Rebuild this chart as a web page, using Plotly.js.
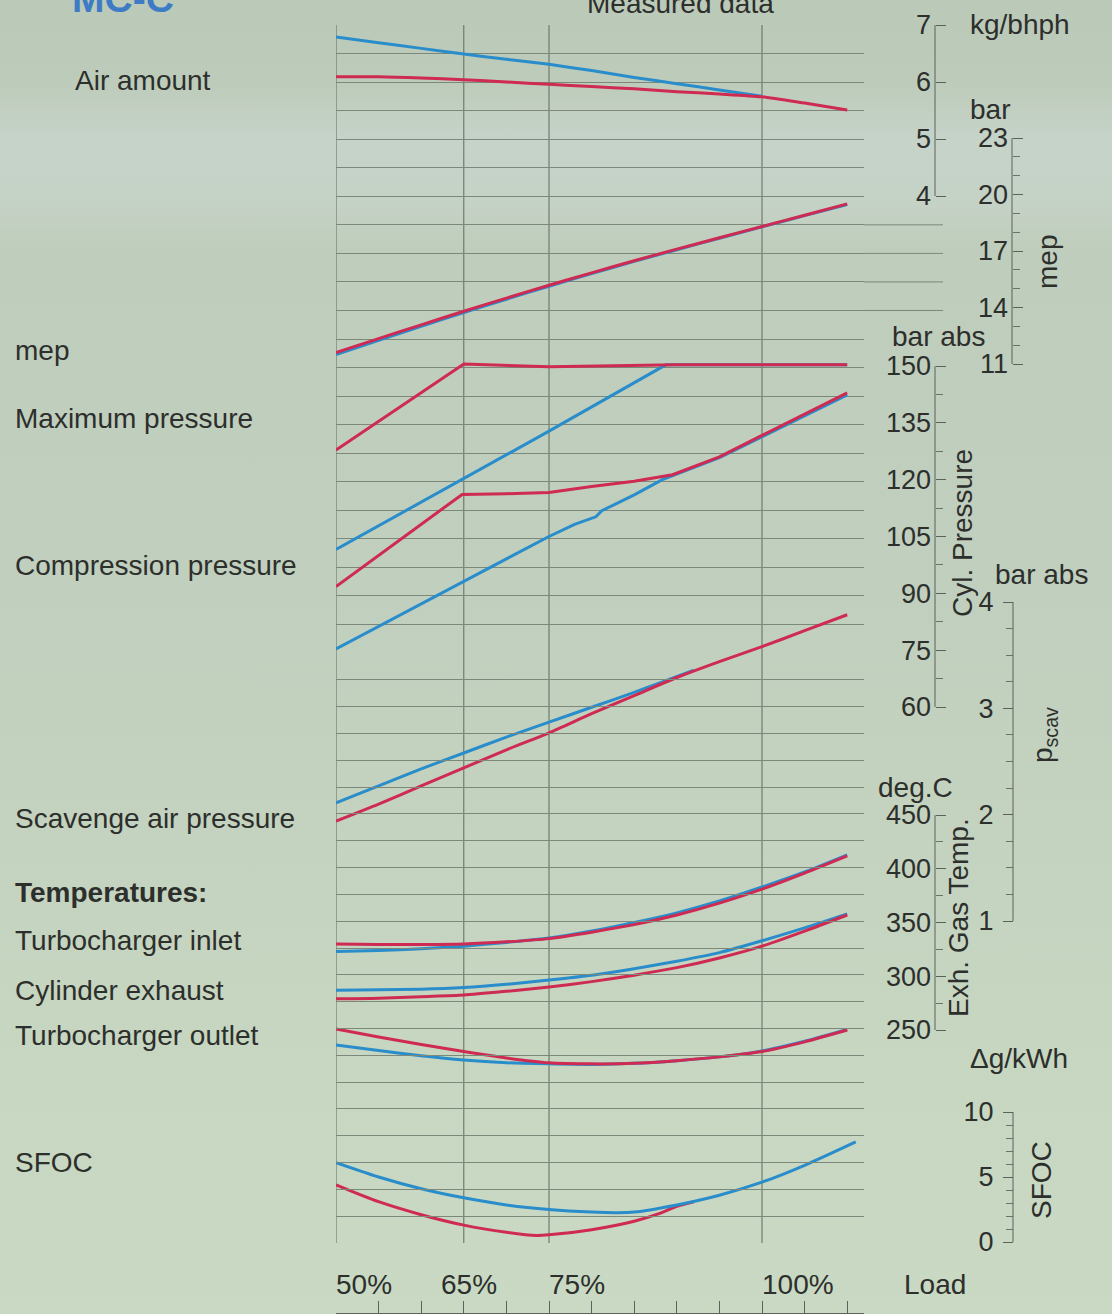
<!DOCTYPE html>
<html>
<head>
<meta charset="utf-8">
<script src="https://cdn.plot.ly/plotly-3.0.1.min.js"></script>
<style>
  html, body { margin: 0; padding: 0; }
  #chart {
    width: 1112px; height: 1314px;
    background: linear-gradient(to bottom, #bbc9b8 0px, #bdcbba 80px, #c6d3c9 140px, #c5d2c6 200px, #bfcdbc 250px, #c1cfbe 600px, #c5d4c0 900px, #c7d7c1 1100px, #c9d9c3 1314px);
  }
</style>
</head>
<body>
<div id="chart"></div>
<script>
// ---------------- DATA ----------------
const loadTicks = [50, 65, 75, 100];
const loadTickText = ['50%', '65%', '75%', '100%'];

// Air amount, kg/bhph
const airLoadBlue = [50, 55, 60, 65, 70, 75, 80, 85, 90, 95, 100];
const airBlue     = [6.79, 6.69, 6.59, 6.49, 6.40, 6.31, 6.20, 6.08, 5.97, 5.86, 5.75];
const airLoadRed  = [50, 55, 60, 65, 70, 75, 80, 85, 90, 95, 100, 105, 110];
const airRed      = [6.09, 6.09, 6.07, 6.04, 6.00, 5.96, 5.92, 5.88, 5.83, 5.79, 5.74, 5.63, 5.51];

// mep, bar
const mepLoad = [50, 55, 60, 65, 70, 75, 80, 85, 90, 95, 100, 105, 110];
const mepRed  = [11.6, 12.35, 13.08, 13.8, 14.5, 15.18, 15.84, 16.48, 17.1, 17.7, 18.3, 18.9, 19.5];
const mepBlue = [11.5, 12.26, 13.0, 13.73, 14.44, 15.13, 15.8, 16.45, 17.07, 17.68, 18.28, 18.88, 19.47];

// Maximum pressure, bar abs
const pmaxLoadRed  = [50, 65, 75, 90, 110];
const pmaxRed      = [127.8, 150.5, 149.8, 150.3, 150.3];
const pmaxLoadBlue = [50, 65, 75, 88.7, 110];
const pmaxBlue     = [101.6, 120.2, 132.8, 150.3, 150.3];

// Compression pressure, bar abs
const pcompLoadRed  = [50, 64.8, 70, 75, 80, 85, 89.5, 95, 100, 105, 110];
const pcompRed      = [91.8, 116.1, 116.3, 116.6, 118.2, 119.6, 121.3, 126.0, 131.7, 137.3, 142.9];
const pcompLoadBlue = [50, 55, 60, 65, 70, 75, 78, 80.5, 81.2, 85, 88.3, 95, 100, 105, 110];
const pcompBlue     = [75.3, 81.3, 87.3, 93.2, 99.1, 105.0, 108.2, 110.2, 111.8, 116.0, 120.0, 125.8, 131.3, 136.8, 142.4];

// Scavenge air pressure, bar abs
const scavLoadRed  = [50, 55, 60, 65, 70, 75, 80, 85, 90, 95, 100, 105, 110];
const scavRed      = [1.94, 2.10, 2.27, 2.44, 2.61, 2.77, 2.95, 3.12, 3.29, 3.44, 3.58, 3.73, 3.88];
const scavLoadBlue = [50, 55, 60, 65, 70, 75, 80, 85, 88, 92];
const scavBlue     = [2.11, 2.27, 2.43, 2.58, 2.73, 2.87, 3.01, 3.15, 3.24, 3.36];

// Temperatures, deg.C
const tempLoad   = [50, 55, 60, 65, 70, 75, 80, 85, 90, 95, 100, 105, 110];
const tcInRed    = [330, 329.5, 329.5, 330, 332, 335, 341, 348, 357, 368, 381, 396, 412];
const tcInBlue   = [323, 324, 325.5, 328, 331.5, 335.5, 342, 350, 359, 370, 383, 397, 413];
const cylExRed   = [279, 279.5, 281, 282.5, 286, 290, 295, 301, 308, 317, 328, 342, 357];
const cylExBlue  = [287, 287.5, 288, 289.5, 292.5, 296.5, 301, 307, 314, 322, 333, 345, 358];
const tcOutRed   = [251, 243.5, 236.5, 230, 224, 219.5, 218.5, 219, 221.5, 225, 230, 239, 250];
const tcOutBlue  = [236, 231, 226, 222, 219.5, 218.5, 218, 219, 221.5, 225, 230.5, 239.5, 250.5];

// SFOC, delta g/kWh
const sfocLoadRed  = [50, 55, 60, 65, 70, 73.5, 75, 80, 85, 88, 90, 92];
const sfocRed      = [4.4, 3.1, 2.1, 1.3, 0.75, 0.5, 0.55, 0.95, 1.6, 2.2, 2.75, 3.1];
const sfocLoadBlue = [50, 55, 60, 65, 70, 75, 80, 83, 85, 90, 95, 100, 105, 111];
const sfocBlue     = [6.1, 5.0, 4.1, 3.4, 2.85, 2.5, 2.3, 2.25, 2.3, 2.85, 3.6, 4.6, 5.9, 7.7];

// Axis tick values
const airTicks   = [4, 5, 6, 7];
const mepTicks   = [11, 14, 17, 20, 23];
const mepMinor   = [12, 13, 15, 16, 18, 19, 21, 22];
const cylTicks   = [60, 75, 90, 105, 120, 135, 150];
const cylMinor   = [67.5, 82.5, 97.5, 112.5, 127.5, 142.5];
const scavTicks  = [1, 2, 3, 4];
const scavMinor  = [1.25, 1.5, 1.75, 2.25, 2.5, 2.75, 3.25, 3.5, 3.75];
const tempTicks  = [250, 300, 350, 400, 450];
const tempMinor  = [275, 325, 375, 425];
const sfocTicks  = [0, 5, 10];
const sfocMinor  = [1, 2, 3, 4, 6, 7, 8, 9];

// ---------------- LAYOUT HELPERS ----------------
const W = 1112, H = 1314;
const RED = '#cf2a52', BLUE = '#2a8dcb';
const TXT = '#2d2f2c';
const FONT = 'Liberation Sans, Arial, Helvetica, sans-serif';
const py = p => 1 - p / H;
const px = p => p / W;
// range so that value vA sits at pixel yA and vB at pixel yB
function cal(vA, yA, vB, yB) {
  const s = (yB - yA) / (vA - vB);
  return [vA - (H - yA) / s, vA + yA / s];
}
const xRange = [50, 50 + (864 - 336) / 8.52];

function yax(range, pos, tickvals, minorVals, ticksDir, extra) {
  return Object.assign({
    overlaying: 'y', anchor: 'free', position: pos, range: range, side: 'left',
    showgrid: false, zeroline: false, showline: false,
    tickmode: 'array', tickvals: tickvals,
    ticks: ticksDir, ticklen: 10, tickwidth: 1, tickcolor: '#5a625a',
    tickfont: { family: FONT, size: 27, color: TXT },
    ticklabelstandoff: 4,
    minor: { tickmode: 'array', tickvals: minorVals, ticks: ticksDir, ticklen: 7, tickcolor: '#6a736a', tickwidth: 1, showgrid: false },
    fixedrange: true
  }, extra || {});
}

const axes = {
  y3: { range: cal(7, 25, 4, 196), pos: 935, ticks: airTicks, minor: [], dir: 'inside' },
  y4: { range: cal(23, 138, 11, 364), pos: 1012, ticks: mepTicks, minor: mepMinor, dir: 'inside' },
  y5: { range: cal(150, 366, 60, 707), pos: 935, ticks: cylTicks, minor: cylMinor, dir: 'inside' },
  y6: { range: cal(4, 602, 1, 921), pos: 1013, ticks: scavTicks, minor: scavMinor, dir: 'outside' },
  y7: { range: cal(450, 815, 250, 1030), pos: 935, ticks: tempTicks, minor: tempMinor, dir: 'inside' },
  y8: { range: cal(10, 1112, 0, 1242), pos: 1013, ticks: sfocTicks, minor: sfocMinor, dir: 'outside' }
};

// ---------------- TRACES ----------------
function line(x, y, yaxis, color, shape) {
  return { type: 'scatter', mode: 'lines', x: x, y: y, xaxis: 'x', yaxis: yaxis,
    line: { color: color, width: 3, shape: shape || 'spline', smoothing: 0.7 },
    hoverinfo: 'skip', showlegend: false };
}
const traces = [
  { type: 'scatter', mode: 'lines', x: [], y: [], xaxis: 'x', yaxis: 'y2', showlegend: false, hoverinfo: 'skip' },
  { type: 'scatter', mode: 'lines', x: [], y: [], xaxis: 'x', yaxis: 'y9', showlegend: false, hoverinfo: 'skip' },
  line(airLoadBlue, airBlue, 'y3', BLUE),
  line(airLoadRed, airRed, 'y3', RED),
  line(mepLoad, mepBlue, 'y4', BLUE),
  line(mepLoad, mepRed, 'y4', RED),
  line(pmaxLoadBlue, pmaxBlue, 'y5', BLUE, 'linear'),
  line(pcompLoadBlue, pcompBlue, 'y5', BLUE, 'linear'),
  line(pmaxLoadRed, pmaxRed, 'y5', RED, 'linear'),
  line(pcompLoadRed, pcompRed, 'y5', RED, 'linear'),
  line(scavLoadBlue, scavBlue, 'y6', BLUE),
  line(scavLoadRed, scavRed, 'y6', RED),
  line(tempLoad, tcInBlue, 'y7', BLUE),
  line(tempLoad, tcInRed, 'y7', RED),
  line(tempLoad, cylExBlue, 'y7', BLUE),
  line(tempLoad, cylExRed, 'y7', RED),
  line(tempLoad, tcOutBlue, 'y7', BLUE),
  line(tempLoad, tcOutRed, 'y7', RED),
  line(sfocLoadRed, sfocRed, 'y8', RED),
  line(sfocLoadBlue, sfocBlue, 'y8', BLUE)
];

// ---------------- SHAPES ----------------
const shapes = [];
const GRIDTOP = 25, GRIDMID = 653, GRIDBOT = 1243;
loadTicks.forEach(v => shapes.push({ type: 'line', xref: 'x', yref: 'paper', x0: v, x1: v,
  y0: py(GRIDBOT), y1: py(GRIDTOP), line: { color: '#5f6b5f', width: 1 }, layer: 'below' }));
Object.keys(axes).forEach(k => {
  const a = axes[k];
  shapes.push({ type: 'line', xref: 'paper', yref: k, x0: px(a.pos), x1: px(a.pos),
    y0: Math.min(...a.ticks), y1: Math.max(...a.ticks), line: { color: '#5a625a', width: 1 } });
});
// grid rows extending to the right of the grid (mep band)
[12, 13, 14, 15].forEach(r => shapes.push({ type: 'line', xref: 'paper', yref: 'y2', x0: px(864), x1: px(943),
  y0: r, y1: r, line: { color: '#7b887a', width: 1 }, layer: 'below' }));

// ---------------- ANNOTATIONS ----------------
const annotations = [];
function ann(text, x, y, o) {
  annotations.push(Object.assign({ text: text, xref: 'paper', yref: 'paper', x: px(x), y: py(y),
    xanchor: 'left', yanchor: 'middle', showarrow: false,
    font: { family: FONT, size: 28, color: TXT } }, o || {}));
}
ann('<b>MC-C</b>', 70, 22, { yanchor: 'bottom', font: { family: FONT, size: 39, color: '#3d7cc4' } });
ann('Measured data', 585, 21, { yanchor: 'bottom' });
ann('Air amount', 73, 80);
ann('mep', 13, 351);
ann('Maximum pressure', 13, 418);
ann('Compression pressure', 13, 566);
ann('Scavenge air pressure', 13, 818);
ann('<b>Temperatures:</b>', 13, 892);
ann('Turbocharger inlet', 13, 940);
ann('Cylinder exhaust', 13, 990);
ann('Turbocharger outlet', 13, 1035);
ann('SFOC', 13, 1162);
ann('kg/bhph', 968, 24);
ann('bar', 968, 109);
ann('bar abs', 890, 336);
ann('bar abs', 993, 575);
ann('deg.C', 876, 787);
ann('Δg/kWh', 968, 1058);
ann('Load', 902, 1284);
ann('mep', 1048, 262, { xanchor: 'center', textangle: -90 });
ann('Cyl. Pressure', 962, 533, { xanchor: 'center', textangle: -90 });
ann('p<sub>scav</sub>', 1044, 735, { xanchor: 'center', textangle: -90 });
ann('Exh. Gas Temp.', 958, 918, { xanchor: 'center', textangle: -90 });
ann('SFOC', 1041, 1180, { xanchor: 'center', textangle: -90 });
loadTicks.forEach((v, i) => annotations.push({
  text: loadTickText[i], xref: 'x', yref: 'paper', x: v, y: py(1284),
  xanchor: v === 65 ? 'center' : 'left', xshift: v === 65 ? 5 : -2, yanchor: 'middle', showarrow: false,
  font: { family: FONT, size: 28, color: TXT } }));

// ---------------- LAYOUT ----------------
const layout = {
  width: W, height: H,
  margin: { l: 0, r: 0, t: 0, b: 0, pad: 0 },
  paper_bgcolor: 'rgba(0,0,0,0)', plot_bgcolor: 'rgba(0,0,0,0)',
  showlegend: false,
  font: { family: FONT, color: TXT },
  xaxis: { domain: [px(336), px(864)], range: xRange, anchor: 'free', position: 0.001,
    showgrid: false, zeroline: false, showline: true, linecolor: '#5a625a', linewidth: 1,
    tickmode: 'linear', tick0: 50, dtick: 5, ticks: 'inside', ticklen: 12, tickcolor: '#5a625a',
    showticklabels: false, fixedrange: true },
  yaxis: { domain: [0, 1], range: [0, 1], visible: false, fixedrange: true },
  yaxis2: { domain: [py(GRIDMID), py(GRIDTOP)], range: [-0.002, 22.002], anchor: 'x', dtick: 1, tick0: 0,
    showgrid: true, gridcolor: '#7b887a', gridwidth: 1, zeroline: false, showline: false,
    showticklabels: false, ticks: '', fixedrange: true },
  yaxis9: { domain: [py(GRIDBOT), py(GRIDMID)], range: [-0.002, 22.002], anchor: 'x', dtick: 1, tick0: 0,
    showgrid: true, gridcolor: '#7b887a', gridwidth: 1, zeroline: false, showline: false,
    showticklabels: false, ticks: '', fixedrange: true },
  shapes: shapes,
  annotations: annotations
};
Object.keys(axes).forEach(k => {
  const a = axes[k];
  layout['yaxis' + k.slice(1)] = yax(a.range, px(a.pos), a.ticks, a.minor, a.dir);
});

Plotly.newPlot('chart', traces, layout, { staticPlot: true, displayModeBar: false });
</script>
</body>
</html>
